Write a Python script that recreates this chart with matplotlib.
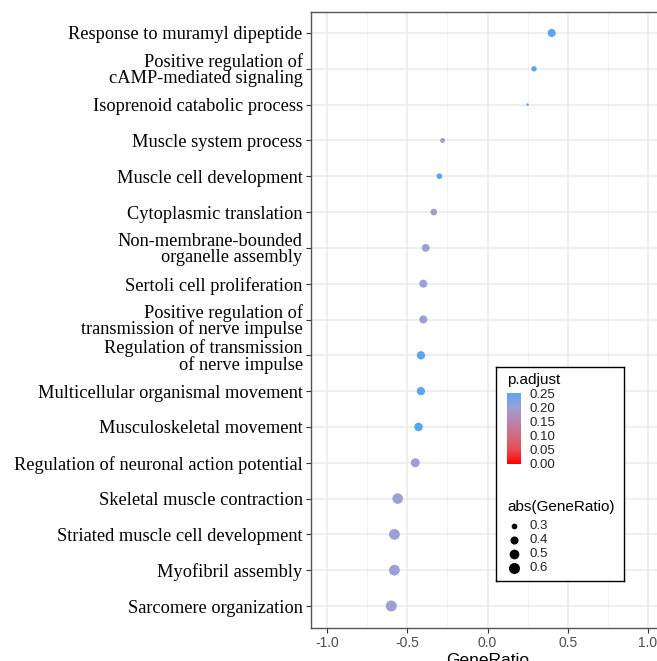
import numpy as np
import matplotlib
matplotlib.use("Agg")
import matplotlib.pyplot as plt
from matplotlib.colors import LinearSegmentedColormap, Normalize
from matplotlib.cm import ScalarMappable

# GO terms, top to bottom
terms = [
    "Response to muramyl dipeptide",
    "Positive regulation of\ncAMP-mediated signaling",
    "Isoprenoid catabolic process",
    "Muscle system process",
    "Muscle cell development",
    "Cytoplasmic translation",
    "Non-membrane-bounded\norganelle assembly",
    "Sertoli cell proliferation",
    "Positive regulation of\ntransmission of nerve impulse",
    "Regulation of transmission\nof nerve impulse",
    "Multicellular organismal movement",
    "Musculoskeletal movement",
    "Regulation of neuronal action potential",
    "Skeletal muscle contraction",
    "Striated muscle cell development",
    "Myofibril assembly",
    "Sarcomere organization",
]
gene_ratio = [0.40, 0.29, 0.25, -0.28, -0.30, -0.335, -0.385, -0.40, -0.40,
              -0.415, -0.415, -0.43, -0.45, -0.56, -0.58, -0.58, -0.60]
p_adjust = [0.252, 0.252, 0.252, 0.20, 0.252, 0.20, 0.20, 0.20, 0.20,
            0.252, 0.252, 0.252, 0.20, 0.20, 0.20, 0.20, 0.20]
size_breaks = [0.3, 0.4, 0.5, 0.6]
cbar_ticks = [0.00, 0.05, 0.10, 0.15, 0.20, 0.25]

W, H = 657, 661
DPI = 100

cmap = LinearSegmentedColormap.from_list(
    "padj", [(0.0, "#FF0000"), (0.2, "#EA4A52"), (0.4, "#D06A80"),
             (0.6, "#B985AC"), (0.8, "#9CA0D6"), (1.0, "#5BA6F0")])
norm = Normalize(vmin=0, vmax=max(p_adjust))

vmin_s, vmax_s = min(abs(v) for v in gene_ratio), max(abs(v) for v in gene_ratio)


def dot_px(v):
    # marker diameter in pixels, ggplot-like area scaling
    frac = (abs(v) - vmin_s) / (vmax_s - vmin_s)
    return 2.5 + 8.5 * np.sqrt(max(frac, 0))


def px2pt(d):
    return d * 72.0 / DPI


fig = plt.figure(figsize=(W / DPI, H / DPI), dpi=DPI)
fig.patch.set_facecolor("white")

# panel in pixel coords: left 311, right 664 (beyond fig), top 11.5, bottom 627.5
left, right, top, bottom = 311, 664, 11.5, 627.5
ax = fig.add_axes([left / W, 1 - bottom / H, (right - left) / W, (bottom - top) / H])

n = len(terms)
ypos = np.arange(n)[::-1]
sizes = [px2pt(dot_px(v)) ** 2 for v in gene_ratio]
ax.scatter(gene_ratio, ypos, s=sizes, c=p_adjust, cmap=cmap, norm=norm,
           linewidths=0, zorder=3)

ax.set_xlim(-1.1, 1.1)
ax.set_ylim(-0.6, n - 1 + 0.6)
ax.set_yticks(ypos)
ax.set_yticklabels(terms, family="Liberation Serif", fontsize=13.2,
                   linespacing=0.92, color="black")
ax.set_xticks([-1.0, -0.5, 0.0, 0.5, 1.0])
ax.set_xticklabels(["-1.0", "-0.5", "0.0", "0.5", "1.0"],
                   family="Liberation Sans", fontsize=10, color="#4D4D4D")
ax.set_xticks([-0.75, -0.25, 0.25, 0.75], minor=True)
ax.grid(True, which="major", color="#EBEBEB", linewidth=1.1, zorder=0)
ax.grid(True, which="minor", axis="x", color="#F2F2F2", linewidth=0.6, zorder=0)
ax.set_axisbelow(True)
ax.tick_params(axis="both", which="major", length=3.5, width=0.8, color="#333333", pad=2.5)
ax.tick_params(axis="x", which="minor", length=0)
for s in ax.spines.values():
    s.set_color("#555555")
    s.set_linewidth(1.0)
ax.set_xlabel("GeneRatio", family="Liberation Sans", fontsize=12.5, labelpad=2)

# partially clipped y label on the far left
fig.text(-0.014, 1 - 437 / H, "GO", rotation=90, family="Liberation Serif",
         fontsize=13, va="center", ha="center")

# legend box (pixel coordinates)
bx0, bx1, by0, by1 = 496, 624, 367, 581
lax = fig.add_axes([bx0 / W, 1 - by1 / H, (bx1 - bx0) / W, (by1 - by0) / H])
lax.set_xlim(bx0, bx1)
lax.set_ylim(by1, by0)
lax.set_xticks([])
lax.set_yticks([])
lax.set_facecolor("white")
for s in lax.spines.values():
    s.set_color("black")
    s.set_linewidth(1.0)

lax.text(507, 380, "p.adjust", family="Liberation Sans", fontsize=11, va="center")
lax.text(507, 507, "abs(GeneRatio)", family="Liberation Sans", fontsize=11, va="center")
leg_y = [526, 540.5, 554.5, 568.5]
for b, yy in zip(size_breaks, leg_y):
    lax.plot([514], [yy], "o", color="black", markersize=px2pt(dot_px(b)),
             markeredgewidth=0)
    lax.text(529, yy, f"{b:.1f}", family="Liberation Sans", fontsize=9.5,
             va="center", color="#222222")

# colorbar
cx0, cx1, cy0, cy1 = 507, 521, 393, 464
cax = fig.add_axes([cx0 / W, 1 - cy1 / H, (cx1 - cx0) / W, (cy1 - cy0) / H])
sm = ScalarMappable(norm=Normalize(vmin=0, vmax=0.25), cmap=cmap)
cb = fig.colorbar(sm, cax=cax, ticks=cbar_ticks)
cb.outline.set_visible(False)
cb.ax.tick_params(length=0, pad=6, labelsize=9.5, labelcolor="#222222")
cb.ax.set_yticklabels([f"{t:.2f}" for t in cbar_ticks], family="Liberation Sans")

fig.savefig("out.png", dpi=DPI)
